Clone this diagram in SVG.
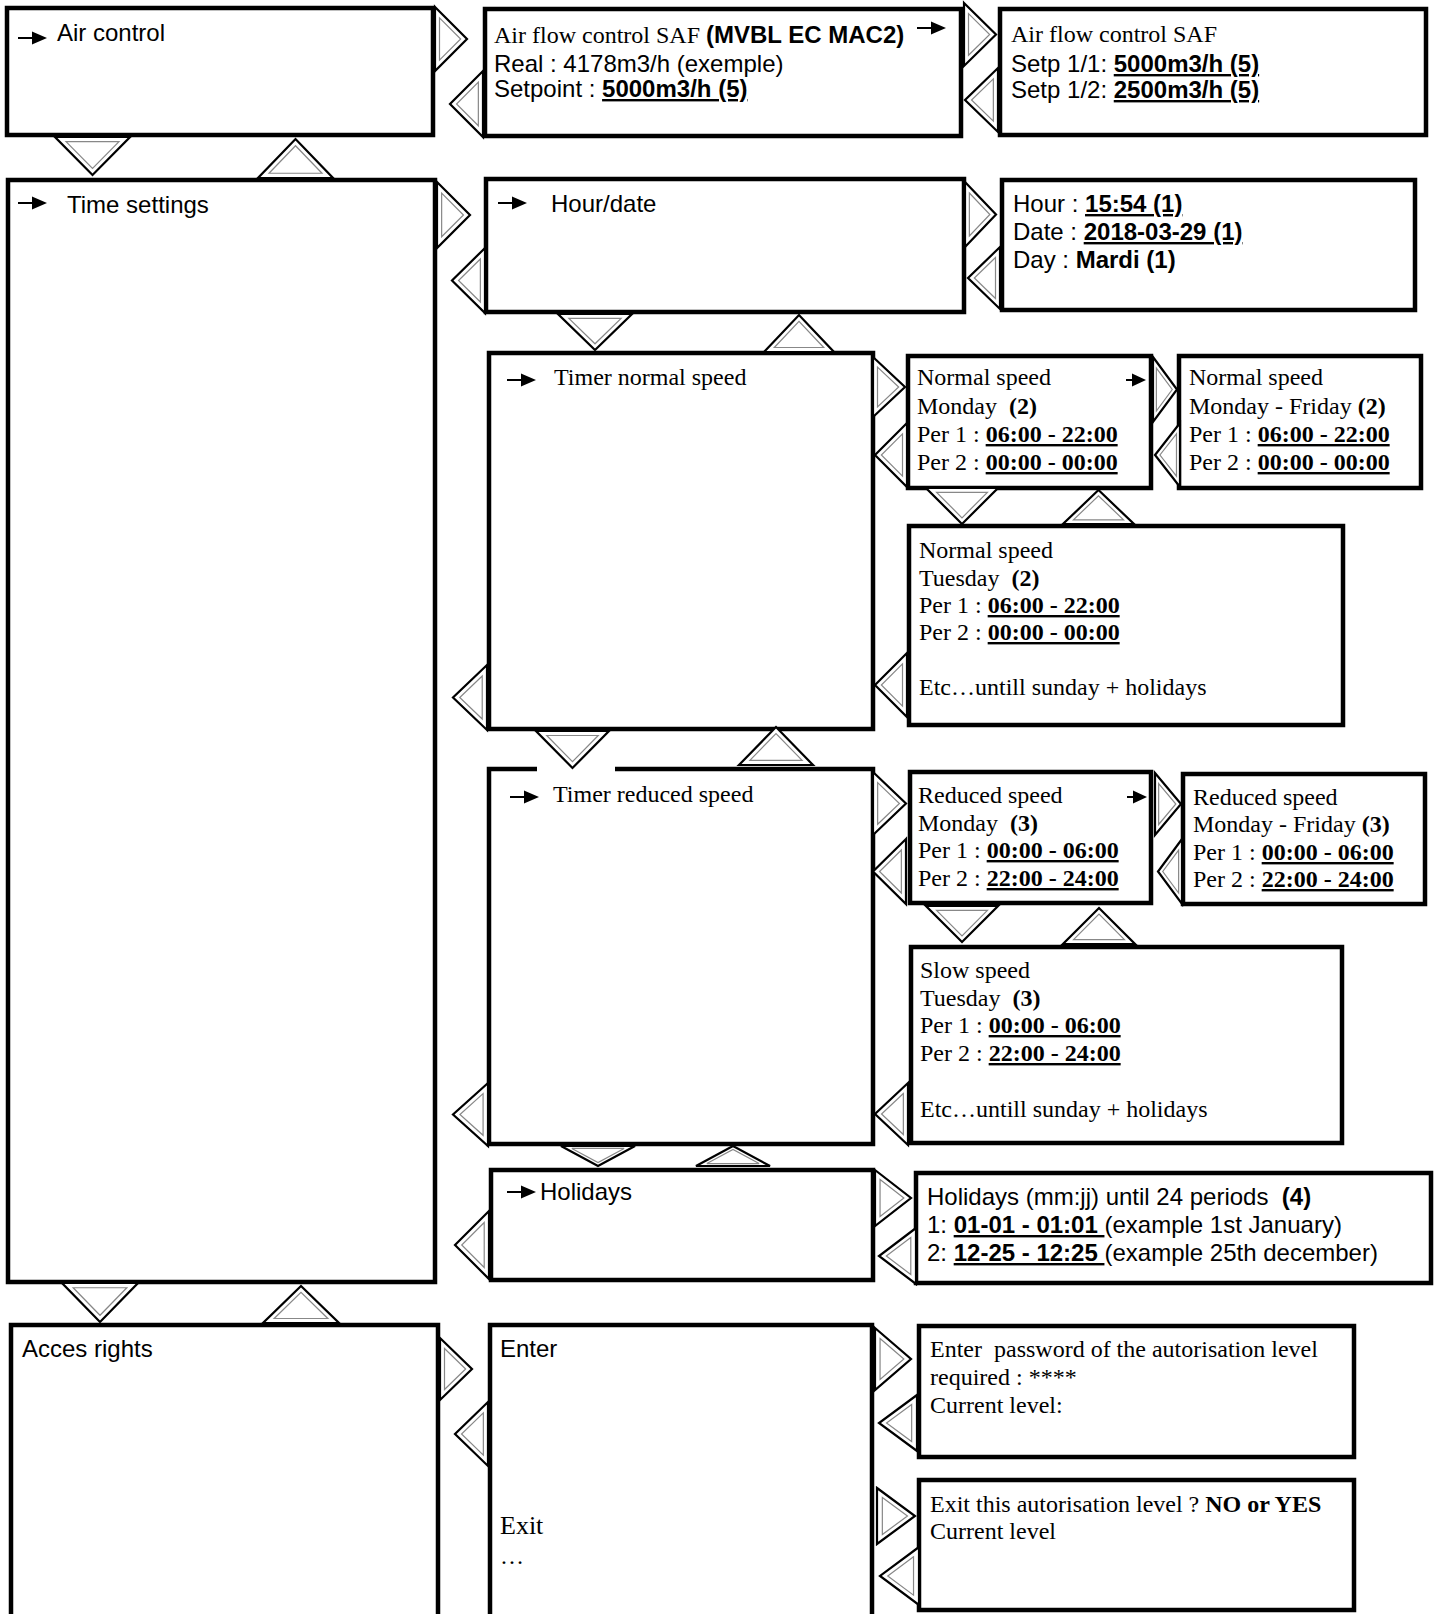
<svg xmlns="http://www.w3.org/2000/svg" width="1435" height="1614" viewBox="0 0 1435 1614">
<style>
.box{fill:#fff;stroke:#000;stroke-width:4.5}
.to{fill:#fff;stroke:#000;stroke-width:2.2;vector-effect:non-scaling-stroke}
.ti{fill:none;stroke:#888;stroke-width:1.2;vector-effect:non-scaling-stroke}
.gap{fill:#fff}
.a{font-family:"Liberation Sans",Arial,sans-serif;font-size:24px;fill:#000}
.t{font-family:"Liberation Serif","Times New Roman",serif;font-size:24px;fill:#000}
.sa{font-family:"Liberation Sans",Arial,sans-serif}
.st{font-family:"Liberation Serif","Times New Roman",serif}
.b{font-weight:bold}
.u{text-decoration:underline}
</style>
<defs>
<g id="tR"><polygon class="to" points="0,0 32,32 0,64"/><polygon class="ti" points="4.5,10.85 25.65,32 4.5,53.15"/></g>
<g id="tL"><polygon class="to" points="32,0 0,32 32,64"/><polygon class="ti" points="27.5,10.85 6.35,32 27.5,53.15"/></g>
<g id="tD"><polygon class="to" points="0,0 74,0 37,37"/><polygon class="ti" points="10.88,4.5 63.12,4.5 37,30.63"/></g>
<g id="tU"><polygon class="to" points="0,37 74,37 37,0"/><polygon class="ti" points="10.88,32.5 63.12,32.5 37,6.37"/></g>
<g id="arr"><path d="M0,0H17" stroke="#000" stroke-width="2"/><polygon points="14,-6.5 29,0 14,6.5" fill="#000"/></g>
<g id="arrS"><path d="M0,0H9" stroke="#000" stroke-width="2"/><polygon points="6,-6.5 20,0 6,6.5" fill="#000"/></g>
</defs>

<g id="n-air-control">
<rect class="box" x="7" y="8" width="426" height="127"/>
<use href="#arr" transform="translate(18,38)"/>
<text class="a" x="57" y="41">Air control</text>
</g>

<g id="n-airflow-real">
<rect class="box" x="485" y="9" width="476" height="127"/>
<text class="a" x="494" y="43"><tspan class="st">Air flow control SAF </tspan><tspan class="b">(MVBL EC MAC2)</tspan></text>
<use href="#arr" transform="translate(917,28)"/>
<text class="a" x="494" y="72">Real : 4178m3/h (exemple)</text>
<text class="a" x="494" y="97">Setpoint : <tspan class="b u">5000m3/h (5)</tspan></text>
</g>

<g id="n-airflow-setp">
<rect class="box" x="1000" y="9" width="426" height="126"/>
<text class="t" x="1011" y="42">Air flow control SAF</text>
<text class="a" x="1011" y="72">Setp 1/1: <tspan class="b u">5000m3/h (5)</tspan></text>
<text class="a" x="1011" y="98">Setp 1/2: <tspan class="b u">2500m3/h (5)</tspan></text>
</g>

<g id="n-time-settings">
<rect class="box" x="8" y="180" width="427" height="1102"/>
<use href="#arr" transform="translate(18,203)"/>
<text class="a" x="67" y="213">Time settings</text>
</g>

<g id="n-hour-date">
<rect class="box" x="486" y="179" width="478" height="133"/>
<use href="#arr" transform="translate(498,203)"/>
<text class="a" x="551" y="212">Hour/date</text>
</g>

<g id="n-hour">
<rect class="box" x="1002" y="180" width="413" height="130"/>
<text class="a" x="1013" y="212">Hour : <tspan class="b u">15:54 (1)</tspan></text>
<text class="a" x="1013" y="240">Date : <tspan class="b u">2018-03-29 (1)</tspan></text>
<text class="a" x="1013" y="268">Day : <tspan class="b">Mardi (1)</tspan></text>
</g>

<g id="n-timer-normal">
<rect class="box" x="489" y="353" width="384" height="376"/>
<use href="#arr" transform="translate(507,380)"/>
<text class="t" x="554" y="385">Timer normal speed</text>
</g>

<g id="n-normal-monday">
<rect class="box" x="908" y="356" width="243" height="132"/>
<text class="t" x="917" y="385">Normal speed</text>
<use href="#arrS" transform="translate(1126,380)"/>
<text class="t" x="917" y="414" xml:space="preserve">Monday  <tspan class="b">(2)</tspan></text>
<text class="t" x="917" y="442">Per 1 : <tspan class="b u">06:00 - 22:00</tspan></text>
<text class="t" x="917" y="470">Per 2 : <tspan class="b u">00:00 - 00:00</tspan></text>
</g>

<g id="n-normal-monfri">
<rect class="box" x="1179" y="356" width="242" height="132"/>
<text class="t" x="1189" y="385">Normal speed</text>
<text class="t" x="1189" y="414">Monday - Friday <tspan class="b">(2)</tspan></text>
<text class="t" x="1189" y="442">Per 1 : <tspan class="b u">06:00 - 22:00</tspan></text>
<text class="t" x="1189" y="470">Per 2 : <tspan class="b u">00:00 - 00:00</tspan></text>
</g>

<g id="n-normal-tuesday">
<rect class="box" x="909" y="526" width="434" height="199"/>
<text class="t" x="919" y="558">Normal speed</text>
<text class="t" x="919" y="586" xml:space="preserve">Tuesday  <tspan class="b">(2)</tspan></text>
<text class="t" x="919" y="613">Per 1 : <tspan class="b u">06:00 - 22:00</tspan></text>
<text class="t" x="919" y="640">Per 2 : <tspan class="b u">00:00 - 00:00</tspan></text>
<text class="t" x="919" y="695">Etc…untill sunday + holidays</text>
</g>

<g id="n-timer-reduced">
<rect class="box" x="489" y="769" width="384" height="375"/>
<use href="#arr" transform="translate(510,797)"/>
<text class="t" x="553" y="802">Timer reduced speed</text>
</g>

<g id="n-reduced-monday">
<rect class="box" x="910" y="772" width="241" height="131"/>
<text class="t" x="918" y="803">Reduced speed</text>
<use href="#arrS" transform="translate(1127,797)"/>
<text class="t" x="918" y="831" xml:space="preserve">Monday  <tspan class="b">(3)</tspan></text>
<text class="t" x="918" y="858">Per 1 : <tspan class="b u">00:00 - 06:00</tspan></text>
<text class="t" x="918" y="886">Per 2 : <tspan class="b u">22:00 - 24:00</tspan></text>
</g>

<g id="n-reduced-monfri">
<rect class="box" x="1183" y="774" width="242" height="130"/>
<text class="t" x="1193" y="805">Reduced speed</text>
<text class="t" x="1193" y="832">Monday - Friday <tspan class="b">(3)</tspan></text>
<text class="t" x="1193" y="860">Per 1 : <tspan class="b u">00:00 - 06:00</tspan></text>
<text class="t" x="1193" y="887">Per 2 : <tspan class="b u">22:00 - 24:00</tspan></text>
</g>

<g id="n-slow-tuesday">
<rect class="box" x="911" y="947" width="431" height="196"/>
<text class="t" x="920" y="978">Slow speed</text>
<text class="t" x="920" y="1006" xml:space="preserve">Tuesday  <tspan class="b">(3)</tspan></text>
<text class="t" x="920" y="1033">Per 1 : <tspan class="b u">00:00 - 06:00</tspan></text>
<text class="t" x="920" y="1061">Per 2 : <tspan class="b u">22:00 - 24:00</tspan></text>
<text class="t" x="920" y="1117">Etc…untill sunday + holidays</text>
</g>

<g id="n-holidays">
<rect class="box" x="491" y="1170" width="382" height="110"/>
<use href="#arr" transform="translate(507,1192)"/>
<text class="a" x="540" y="1200">Holidays</text>
</g>

<g id="n-holidays-detail">
<rect class="box" x="916" y="1173" width="515" height="110"/>
<text class="a" x="927" y="1205" xml:space="preserve">Holidays (mm:jj) until 24 periods  <tspan class="b">(4)</tspan></text>
<text class="a" x="927" y="1233" xml:space="preserve">1: <tspan class="b u">01-01 - 01:01 </tspan>(example 1st January)</text>
<text class="a" x="927" y="1261" xml:space="preserve">2: <tspan class="b u">12-25 - 12:25 </tspan>(example 25th december)</text>
</g>

<g id="n-acces-rights">
<rect class="box" x="11" y="1325" width="427" height="320"/>
<text class="a" x="22" y="1357">Acces rights</text>
</g>

<g id="n-enter-exit">
<rect class="box" x="490" y="1325" width="382" height="320"/>
<text class="a" x="500" y="1357">Enter</text>
<text class="t" x="500" y="1534" style="font-size:26px">Exit</text>
<text class="t" x="500" y="1564">…</text>
</g>

<g id="n-password">
<rect class="box" x="919" y="1326" width="435" height="131"/>
<text class="t" x="930" y="1357" xml:space="preserve">Enter  password of the autorisation level</text>
<text class="t" x="930" y="1385">required : ****</text>
<text class="t" x="930" y="1413">Current level:</text>
</g>

<g id="n-exit-level">
<rect class="box" x="919" y="1480" width="435" height="130"/>
<text class="t" x="930" y="1512">Exit this autorisation level ? <tspan class="b">NO or YES</tspan></text>
<text class="t" x="930" y="1539">Current level</text>
</g>

<g id="connectors">
<rect class="gap" x="537" y="766" width="78" height="6"/>
<use href="#tR" transform="translate(435,7) scale(1,1)"/>
<use href="#tL" transform="translate(450,71) scale(1.031,1.031)"/>
<use href="#tR" transform="translate(964,3) scale(1,0.984)"/>
<use href="#tL" transform="translate(965,68) scale(1.031,1)"/>
<use href="#tD" transform="translate(55,137) scale(1.014,1.027)"/>
<use href="#tU" transform="translate(258,139) scale(1.014,1.054)"/>
<use href="#tR" transform="translate(437,182) scale(1.031,1.031)"/>
<use href="#tL" transform="translate(452,248) scale(1.031,1.016)"/>
<use href="#tR" transform="translate(965,182) scale(0.969,1.016)"/>
<use href="#tL" transform="translate(968,247) scale(1,0.969)"/>
<use href="#tD" transform="translate(558,314) scale(1,0.973)"/>
<use href="#tU" transform="translate(764,315) scale(0.946,1)"/>
<use href="#tR" transform="translate(873,357) scale(1,0.9375)"/>
<use href="#tL" transform="translate(875,423) scale(1,1)"/>
<use href="#tR" transform="translate(1153,357) scale(0.75,1.016)"/>
<use href="#tL" transform="translate(1155,423) scale(0.781,1)"/>
<use href="#tD" transform="translate(926,488) scale(0.973,0.973)"/>
<use href="#tU" transform="translate(1063,490) scale(0.959,0.919)"/>
<use href="#tL" transform="translate(875,653) scale(1,1)"/>
<use href="#tL" transform="translate(453,665) scale(1.0625,1.016)"/>
<use href="#tD" transform="translate(536,731) scale(0.986,1)"/>
<use href="#tU" transform="translate(739,727) scale(1,1.027)"/>
<use href="#tR" transform="translate(873,772) scale(1.031,0.984)"/>
<use href="#tR" transform="translate(1155,773) scale(0.8125,0.969)"/>
<use href="#tL" transform="translate(873,839) scale(1.031,1.016)"/>
<use href="#tL" transform="translate(1158,839) scale(0.75,1.016)"/>
<use href="#tD" transform="translate(926,906) scale(0.973,0.973)"/>
<use href="#tU" transform="translate(1063,908) scale(0.973,0.973)"/>
<use href="#tL" transform="translate(875,1083) scale(1.031,0.969)"/>
<use href="#tL" transform="translate(453,1083) scale(1.094,0.984)"/>
<use href="#tD" transform="translate(561,1146) scale(1,0.54)"/>
<use href="#tU" transform="translate(696,1146) scale(1,0.54)"/>
<use href="#tR" transform="translate(875,1170) scale(1.125,0.875)"/>
<use href="#tL" transform="translate(879,1228) scale(1.156,0.875)"/>
<use href="#tL" transform="translate(455,1211) scale(1.0625,1.0625)"/>
<use href="#tD" transform="translate(62,1283) scale(1.027,1.054)"/>
<use href="#tU" transform="translate(263,1286) scale(1.027,1)"/>
<use href="#tR" transform="translate(440,1338) scale(1,0.969)"/>
<use href="#tL" transform="translate(455,1402) scale(1.031,1)"/>
<use href="#tR" transform="translate(875,1328) scale(1.125,0.969)"/>
<use href="#tL" transform="translate(879,1395) scale(1.1875,0.875)"/>
<use href="#tR" transform="translate(877,1488) scale(1.1875,0.875)"/>
<use href="#tL" transform="translate(880,1547) scale(1.219,0.906)"/>
</g>
</svg>
